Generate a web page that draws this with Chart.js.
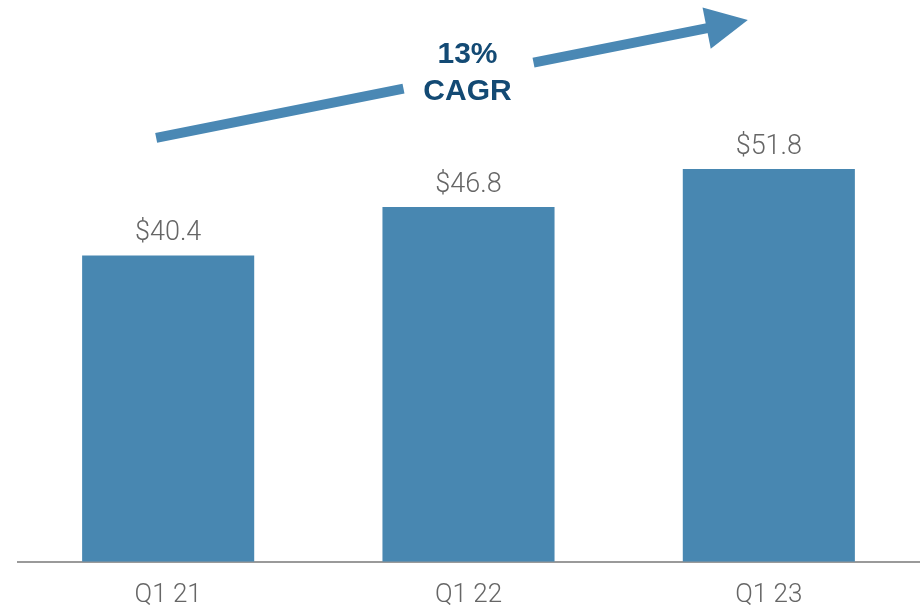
<!DOCTYPE html>
<html>
<head>
<meta charset="utf-8">
<script src="https://cdn.jsdelivr.net/npm/chart.js@4.4.0/dist/chart.umd.min.js"></script>
<style>
  html, body { margin: 0; padding: 0; background: #fff; }
  #chart { display: block; }
</style>
</head>
<body>
<canvas id="chart" width="924" height="606"></canvas>
<script>
// данные
const quarters = ['Q1 21', 'Q1 22', 'Q1 23'];
const revenue  = [40.4, 46.8, 51.8];
const valueLabels = ['$40.4', '$46.8', '$51.8'];
const cagrLines = ['13%', 'CAGR'];

const barColor   = '#4887b1';
const arrowColor = '#4a88b4';
const textGray   = '#666666';
const cagrColor  = '#134a74';
const lightFont  = '"Helvetica Neue", Roboto, "Liberation Sans", Arial, sans-serif';
const boldFont   = '"Helvetica Neue", "Liberation Sans", Arial, sans-serif';

// подписи над столбцами
const valueLabelPlugin = {
  id: 'valueLabels',
  afterDatasetsDraw(chart) {
    const ctx = chart.ctx;
    const meta = chart.getDatasetMeta(0);
    ctx.save();
    ctx.fillStyle = textGray;
    ctx.font = '300 27px ' + lightFont;
    ctx.textAlign = 'center';
    ctx.textBaseline = 'alphabetic';
    meta.data.forEach((bar, i) => {
      ctx.fillText(valueLabels[i], bar.x, bar.y - 15);
    });
    ctx.restore();
  }
};

// стрелка CAGR
const cagrArrowPlugin = {
  id: 'cagrArrow',
  afterDraw(chart) {
    const ctx = chart.ctx;
    const xs = chart.scales.x, ys = chart.scales.y;
    const x0 = xs.getPixelForValue(0) - 12, y0 = ys.getPixelForValue(55.9);
    const x1 = xs.getPixelForValue(2) - 21, y1 = ys.getPixelForValue(71.45);
    const ang = Math.atan2(y1 - y0, x1 - x0);
    const headLen = 42, headW = 21;
    const bx = x1 - headLen * Math.cos(ang), by = y1 - headLen * Math.sin(ang);

    // разрыв под текст
    const cx = xs.getPixelForValue(1) - 1;
    const gapL = cx - 64, gapR = cx + 66;
    const yAt = x => y0 + (x - x0) * Math.tan(ang);

    ctx.save();
    ctx.strokeStyle = arrowColor;
    ctx.lineWidth = 10;
    ctx.lineCap = 'butt';
    ctx.beginPath();
    ctx.moveTo(x0, y0);
    ctx.lineTo(gapL, yAt(gapL));
    ctx.moveTo(gapR, yAt(gapR));
    ctx.lineTo(bx + 2, yAt(bx + 2));
    ctx.stroke();

    ctx.fillStyle = arrowColor;
    ctx.beginPath();
    ctx.moveTo(x1, y1);
    ctx.lineTo(bx - headW * Math.sin(ang), by + headW * Math.cos(ang));
    ctx.lineTo(bx + headW * Math.sin(ang), by - headW * Math.cos(ang));
    ctx.closePath();
    ctx.fill();

    ctx.fillStyle = cagrColor;
    ctx.font = 'bold 30px ' + boldFont;
    ctx.textAlign = 'center';
    ctx.textBaseline = 'middle';
    ctx.fillText(cagrLines[0], cx, ys.getPixelForValue(66.85));
    ctx.fillText(cagrLines[1], cx, ys.getPixelForValue(61.95));
    ctx.restore();
  }
};

new Chart(document.getElementById('chart').getContext('2d'), {
  type: 'bar',
  data: {
    labels: quarters,
    datasets: [{
      data: revenue,
      backgroundColor: barColor,
      categoryPercentage: 1,
      barPercentage: 0.573
    }]
  },
  options: {
    responsive: false,
    animation: false,
    layout: { padding: { top: 31, left: 18, right: 5, bottom: -23 } },
    plugins: {
      legend: { display: false },
      tooltip: { enabled: false }
    },
    scales: {
      x: {
        grid: { display: false, drawTicks: false },
        border: { color: '#9a9a9a', width: 2 },
        ticks: {
          color: textGray,
          padding: 18,
          font: { family: lightFont, size: 26, weight: '300' }
        }
      },
      y: {
        display: false,
        min: 0,
        max: 70
      }
    }
  },
  plugins: [valueLabelPlugin, cagrArrowPlugin]
});
</script>
</body>
</html>
